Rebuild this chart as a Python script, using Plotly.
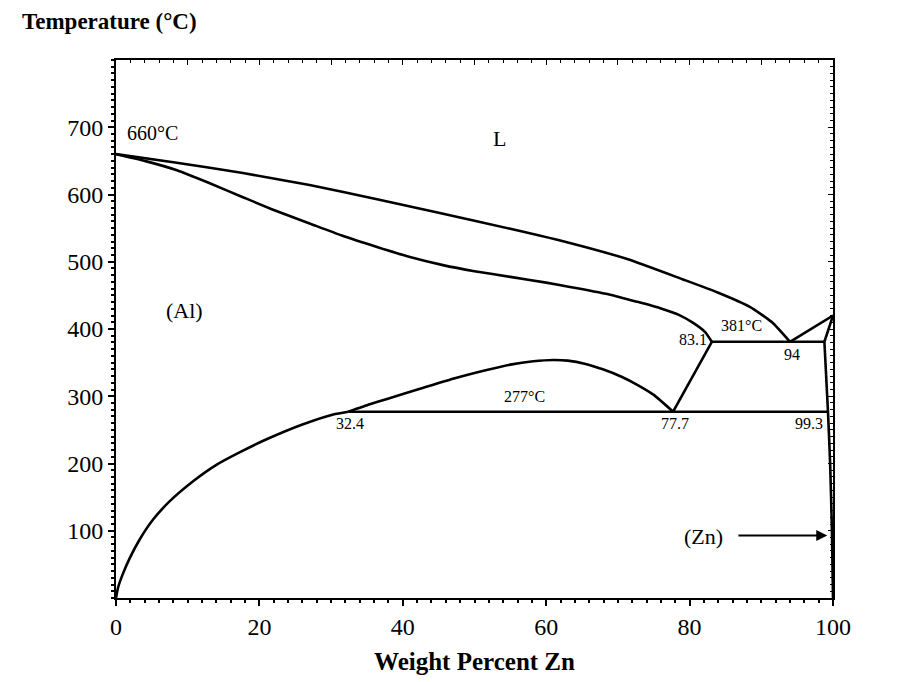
import plotly.graph_objects as go

# ---- data ----
liquidus_al_x = [0, 8, 17.7, 27, 36.4, 45, 55, 63.3, 71.3, 79, 84, 88.4, 91.5, 94]
liquidus_al_t = [660, 648, 632, 614, 593, 573, 549, 528, 504, 474, 454, 433, 410, 381]

solidus_al_x = [0, 4, 8.5, 13, 17.7, 22, 27, 31.5, 36.4, 41, 45.6, 50, 55, 60, 63.3, 68.9,
                72.5, 75.9, 78.5, 80.5, 82.2, 83.1]
solidus_al_t = [660, 650, 636, 617, 596, 577, 557, 539, 522, 507, 495, 486, 477.5, 469, 462.5, 451,
                441, 431, 421, 409, 395, 381]

solvus_al_x = [0, 0.3, 1, 1.95, 3.3, 5.2, 7.5, 10.8, 14, 17.5, 21, 26, 30.3, 32.4]
solvus_al_t = [0, 16, 37, 60, 87, 117, 144, 174, 198, 218, 236, 258, 273, 277]

dome_x = [32.4, 35.4, 37.8, 42.4, 47, 51.7, 55, 58.2, 61, 63, 65.5, 67.9, 70.5, 72.7, 75, 77.7]
dome_t = [277, 288, 296, 311, 326, 339, 347, 352, 354, 353, 348, 340, 329, 317, 302, 277]

mono_x = [77.7, 83.1]
mono_t = [277, 381]

eutectoid_x = [32.4, 99.3]
eutectoid_t = [277, 277]

eutectic_x = [83.1, 98.8]
eutectic_t = [381, 381]

liquidus_zn_x = [94, 100]
liquidus_zn_t = [381, 420]

solidus_zn_x = [98.8, 100]
solidus_zn_t = [381, 420]

solvus_zn_x = [98.8, 99.3, 99.6, 99.85, 100]
solvus_zn_t = [381, 277, 200, 100, 0]

curves = [
    (liquidus_al_x, liquidus_al_t),
    (solidus_al_x, solidus_al_t),
    (solvus_al_x, solvus_al_t),
    (dome_x, dome_t),
    (mono_x, mono_t),
    (eutectoid_x, eutectoid_t),
    (eutectic_x, eutectic_t),
    (liquidus_zn_x, liquidus_zn_t),
    (solidus_zn_x, solidus_zn_t),
    (solvus_zn_x, solvus_zn_t),
]

# labels: (text, x, T, size, xanchor)
labels = [
    ("660°C", 1.2, 692, 20, "left"),
    ("L", 53.5, 683, 22, "center"),
    ("(Al)", 9.6, 427, 22, "center"),
    ("381°C", 87.2, 405, 16, "center"),
    ("83.1", 82.7, 384, 16, "right"),
    ("94", 94.3, 362, 16, "center"),
    ("420°C", 101.5, 437, 20, "left"),
    ("277°C", 57.0, 299, 16, "center"),
    ("32.4", 32.6, 260, 16, "center"),
    ("77.7", 78.0, 260, 16, "center"),
    ("99.3", 98.9, 260, 16, "right"),
    ("(Zn)", 82.0, 92, 22, "center"),
]

arrow_tail = (86.6, 93)
arrow_head = (99.2, 93)

FONT = "Liberation Serif"

fig = go.Figure()
for cx, ct in curves:
    fig.add_trace(go.Scatter(x=cx, y=ct, mode="lines",
                             line=dict(color="black", width=2.6, shape="spline", smoothing=0.5),
                             hoverinfo="skip", showlegend=False))

for text, lx, lt, size, xa in labels:
    fig.add_annotation(x=lx, y=lt, text=text, showarrow=False, xanchor=xa, yanchor="middle",
                       font=dict(family=FONT, size=size, color="black"))

fig.add_annotation(x=arrow_head[0], y=arrow_head[1], ax=arrow_tail[0], ay=arrow_tail[1],
                   xref="x", yref="y", axref="x", ayref="y", text="", showarrow=True,
                   arrowhead=2, arrowsize=1.1, arrowwidth=2, arrowcolor="black")

fig.add_annotation(xref="x domain", yref="y domain", x=-0.134, y=1.072,
                   text="<b>Temperature (°C)</b>", showarrow=False,
                   font=dict(family=FONT, size=23, color="black"),
                   xanchor="left", yanchor="middle")

common_axis = dict(showgrid=False, zeroline=False, linecolor="black", linewidth=2,
                   tickcolor="black", tickfont=dict(family=FONT, size=24, color="black"))

fig.update_layout(
    width=904, height=682,
    margin=dict(l=116, r=71, t=60, b=84),
    paper_bgcolor="white", plot_bgcolor="white",
    xaxis=dict(range=[0, 100], tickvals=[0, 20, 40, 60, 80, 100], ticks="outside", ticklen=6,
               tickwidth=2, minor=dict(dtick=2, ticks="outside", ticklen=3, tickcolor="black"),
               title=dict(text="<b>Weight Percent Zn</b>", font=dict(family=FONT, size=25, color="black"),
                          standoff=14),
               **common_axis),
    yaxis=dict(range=[0, 800], tickvals=[100, 200, 300, 400, 500, 600, 700], ticks="outside",
               ticklen=6, tickwidth=2, minor=dict(dtick=10, ticks="outside", ticklen=3, tickcolor="black"),
               **common_axis),
    xaxis2=dict(range=[0, 100], overlaying="x", side="top", showticklabels=False, ticks="inside",
                dtick=10, ticklen=5, minor=dict(dtick=2, ticks="inside", ticklen=3, tickcolor="black"),
                **common_axis),
    yaxis2=dict(range=[0, 800], overlaying="y", side="right", showticklabels=False, ticks="inside",
                dtick=100, ticklen=5, minor=dict(dtick=10, ticks="inside", ticklen=3, tickcolor="black"),
                **common_axis),
)
# invisible trace to activate the mirror axes
fig.add_trace(go.Scatter(x=[0], y=[0], xaxis="x2", yaxis="y2", mode="markers",
                         marker=dict(opacity=0), hoverinfo="skip", showlegend=False))

fig.write_html("out.html")
